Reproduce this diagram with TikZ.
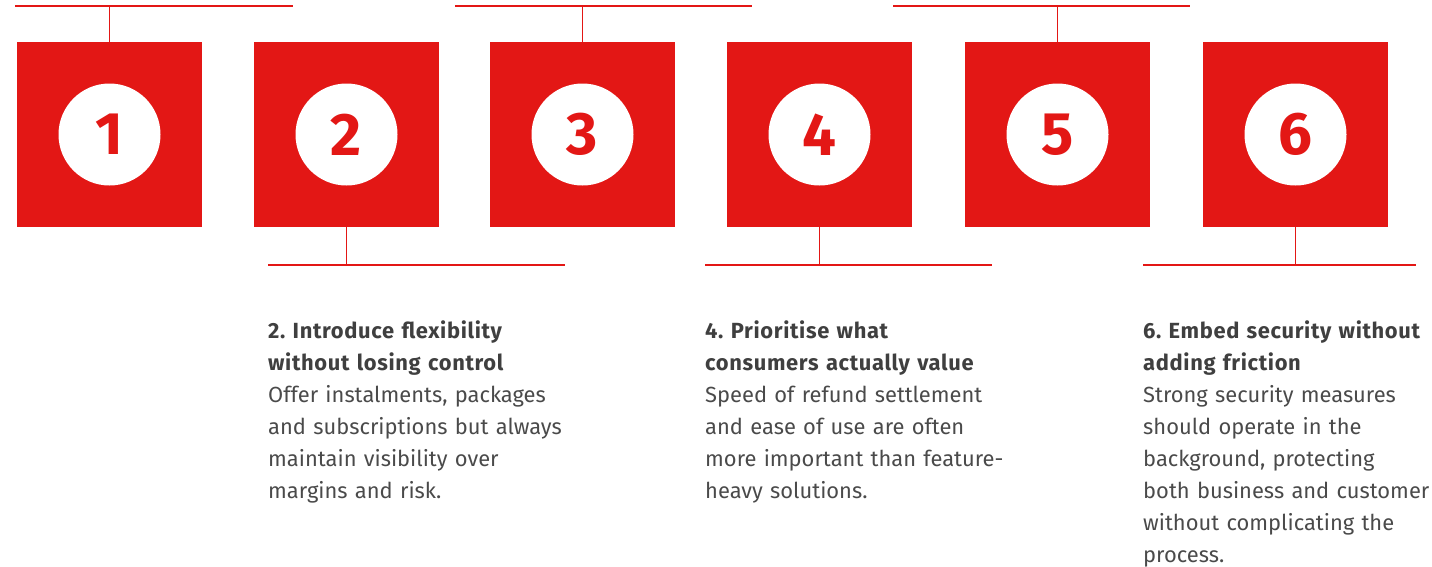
\documentclass[tikz,border=0pt]{standalone}
\usepackage{fontspec}
\setmainfont{Fira Sans}
\definecolor{brandred}{HTML}{E31715}
\definecolor{textgrey}{HTML}{4A4A4A}
\definecolor{headgrey}{HTML}{3F3F3F}
\newcommand{\headline}[1]{{\bfseries\addfontfeatures{LetterSpace=3}\color{headgrey}#1}}

\begin{document}
\frenchspacing
\begin{tikzpicture}[x=1pt,y=-1pt,
  stepbox/.style={fill=brandred, draw=none, minimum size=185pt, inner sep=0pt},
  numdisc/.style={circle, fill=white, draw=none, minimum size=102pt, inner sep=0pt,
    text=brandred, font=\fontsize{60}{60}\selectfont\bfseries},
  rule/.style={draw=brandred, line width=1.3pt},
  stem/.style={draw=brandred, line width=1pt},
  caption/.style={anchor=base west, inner sep=0pt, text width=300pt, align=left,
    text=textgrey, font=\fontsize{21.9}{32}\selectfont\frenchspacing}
]
\useasboundingbox (0,0) rectangle (1432,566);

% the six numbered steps
\foreach \i/\cx in {1/109.5, 2/346.5, 3/582.5, 4/819.5, 5/1057.5, 6/1295.5} {
  \node[stepbox] (box\i) at (\cx,134.5) {};
  \node[numdisc] (num\i) at (box\i.center) {\i};
}

% rules above the odd steps
\coordinate (t1a) at (15,6);   \coordinate (t1b) at (293,6);
\coordinate (t3a) at (455,6);  \coordinate (t3b) at (752,6);
\coordinate (t5a) at (893,6);  \coordinate (t5b) at (1190,6);
\foreach \i in {1,3,5} {
  \draw[rule] (t\i a) -- (t\i b);
  \draw[stem] (box\i.north) -- (box\i.north |- t\i a);
}

% rules below the even steps
\coordinate (b2a) at (268,265);  \coordinate (b2b) at (565,265);
\coordinate (b4a) at (705,265);  \coordinate (b4b) at (992,265);
\coordinate (b6a) at (1143,265); \coordinate (b6b) at (1416,265);
\foreach \i in {2,4,6} {
  \draw[rule] (b\i a) -- (b\i b);
  \draw[stem] (box\i.south) -- (box\i.south |- b\i a);
}

% descriptions
\node[caption] (txt2) at (268,338) {%
  \headline{2. Introduce flexibility}\\
  \headline{without losing control}\\
  Offer instalments, packages\\
  and subscriptions but always\\
  maintain visibility over\\
  margins and risk.};

\node[caption] (txt4) at (705,338) {%
  \headline{4. Prioritise what}\\
  \headline{consumers actually value}\\
  Speed of refund settlement\\
  and ease of use are often\\
  more important than feature-\\
  heavy solutions.};

\node[caption] (txt6) at (1143,338) {%
  \headline{6. Embed security without}\\
  \headline{adding friction}\\
  Strong security measures\\
  should operate in the\\
  background, protecting\\
  both business and customer\\
  without complicating the\\
  process.};
\end{tikzpicture}
\end{document}
